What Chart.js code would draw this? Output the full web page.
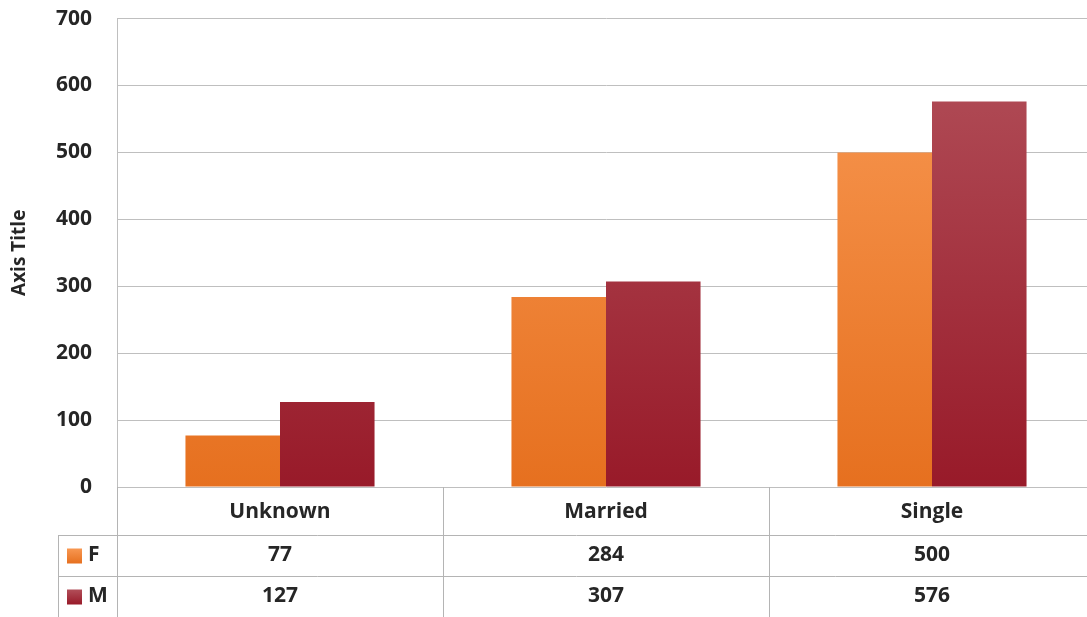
<!DOCTYPE html>
<html>
<head>
<meta charset="utf-8">
<script src="https://cdn.jsdelivr.net/npm/chart.js@4/dist/chart.umd.min.js"></script>
<style>
  html, body { margin: 0; background: #fff; overflow: hidden; }
  #wrap { width: 1095px; height: 617px; position: relative; }
</style>
</head>
<body>
<div id="wrap"><canvas id="chart"></canvas></div>
<script>
const categories = ["Unknown", "Married", "Single"];
const seriesNames = ["F", "M"];
const femaleValues = [77, 284, 500];
const maleValues = [127, 307, 576];
const yTicks = [0, 100, 200, 300, 400, 500, 600, 700];

const FONT = "'Open Sans', Lato, sans-serif";
const TEXT = "#262626";
const GRID = "#bfbfbf";
const TABLE_LINE = "#b4b4b4";

function barGradient(top, bottom) {
  return (ctx) => {
    const area = ctx.chart.chartArea;
    if (!area) return bottom;
    const g = ctx.chart.ctx.createLinearGradient(0, area.top, 0, area.bottom);
    g.addColorStop(0, top);
    g.addColorStop(1, bottom);
    return g;
  };
}

const colors = [
  { top: "#f99a55", bottom: "#e6701f" },
  { top: "#b3525c", bottom: "#981a29" },
];

// draws the data table (series rows) under the category axis
const dataTable = {
  id: "dataTable",
  afterDraw(chart) {
    const { ctx, chartArea, scales } = chart;
    const x = scales.x;
    const h = chart.height;
    const rowTop = chartArea.bottom + 48;
    const rowH = (h - rowTop) / 2;
    const legendLeft = 58;
    const step = (x.getPixelForValue(1) - x.getPixelForValue(0));
    ctx.save();
    ctx.strokeStyle = TABLE_LINE;
    ctx.lineWidth = 1;
    ctx.beginPath();
    ctx.moveTo(chartArea.left + 0.5, chartArea.bottom);
    ctx.lineTo(chartArea.left + 0.5, h);
    for (let i = 1; i < categories.length; i += 1) {
      const px = Math.round(x.getPixelForValue(i) - step / 2) + 0.5;
      ctx.moveTo(px, chartArea.bottom);
      ctx.lineTo(px, h);
    }
    for (let r = 0; r < seriesNames.length; r += 1) {
      const py = Math.round(rowTop + r * rowH) + 0.5;
      ctx.moveTo(legendLeft, py);
      ctx.lineTo(chartArea.right, py);
    }
    ctx.moveTo(legendLeft + 0.5, rowTop);
    ctx.lineTo(legendLeft + 0.5, h);
    ctx.stroke();

    const rows = [femaleValues, maleValues];
    ctx.textBaseline = "middle";
    ctx.font = "bold 21px " + FONT;
    rows.forEach((vals, r) => {
      const cy = rowTop + r * rowH + rowH / 2;
      const g = ctx.createLinearGradient(0, cy - 8, 0, cy + 8);
      g.addColorStop(0, colors[r].top);
      g.addColorStop(1, colors[r].bottom);
      ctx.fillStyle = g;
      ctx.fillRect(legendLeft + 9, cy - 7, 15, 15);
      ctx.fillStyle = TEXT;
      ctx.textAlign = "left";
      ctx.fillText(seriesNames[r], legendLeft + 30, cy);
      ctx.textAlign = "center";
      vals.forEach((v, i) => {
        ctx.fillText(String(v), x.getPixelForValue(i), cy);
      });
    });
    ctx.restore();
  },
};

new Chart(document.getElementById("chart"), {
  type: "bar",
  data: {
    labels: categories,
    datasets: [
      {
        label: seriesNames[0],
        data: femaleValues,
        backgroundColor: barGradient(colors[0].top, colors[0].bottom),
        categoryPercentage: 0.58,
        barPercentage: 1.0,
      },
      {
        label: seriesNames[1],
        data: maleValues,
        backgroundColor: barGradient(colors[1].top, colors[1].bottom),
        categoryPercentage: 0.58,
        barPercentage: 1.0,
      },
    ],
  },
  options: {
    responsive: true,
    maintainAspectRatio: false,
    animation: false,
    layout: { padding: { top: 0, right: 0, bottom: 82, left: 0 } },
    plugins: {
      legend: { display: false },
      tooltip: { enabled: false },
    },
    scales: {
      x: {
        grid: { display: false, drawTicks: false },
        border: { display: false },
        ticks: {
          color: TEXT,
          font: { family: FONT, size: 21, weight: "bold" },
          padding: 12,
          maxRotation: 0,
        },
        afterFit(scale) { scale.height = 48; },
      },
      y: {
        min: 0,
        max: 700,
        afterBuildTicks(scale) {
          scale.ticks = yTicks.map((v) => ({ value: v }));
        },
        grid: {
          color: GRID,
          lineWidth: 1,
          drawTicks: true,
          tickLength: 19,
          tickColor: "rgba(0,0,0,0)",
        },
        border: { display: true, color: GRID },
        ticks: {
          color: TEXT,
          font: { family: FONT, size: 21, weight: "bold" },
          padding: 6,
        },
        title: {
          display: true,
          text: "Axis Title",
          color: TEXT,
          font: { family: FONT, size: 19, weight: "bold" },
          padding: { top: 8, bottom: 0 },
        },
        afterFit(scale) { scale.width = 117; },
      },
    },
  },
  plugins: [dataTable],
});
</script>
</body>
</html>
